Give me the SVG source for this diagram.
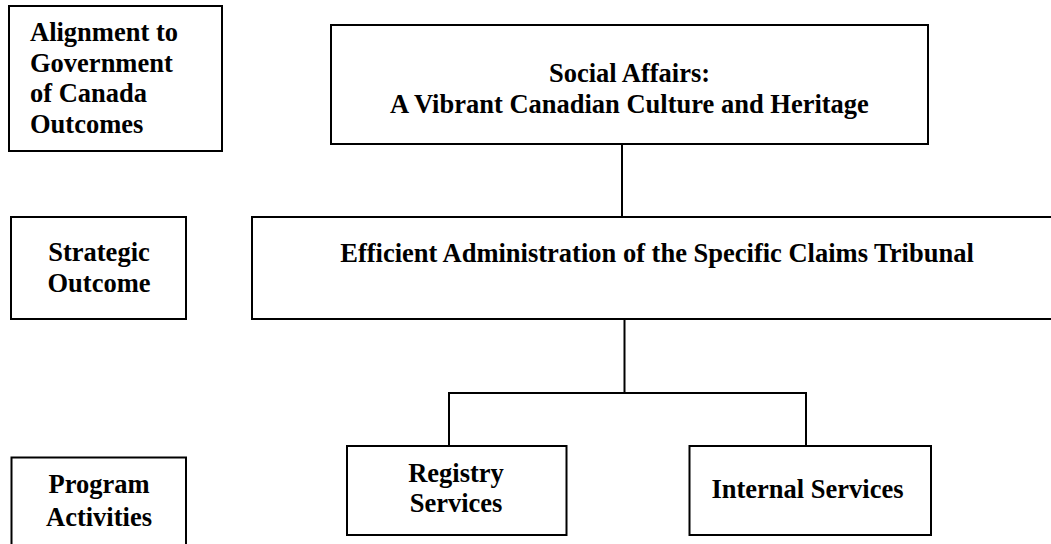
<svg xmlns="http://www.w3.org/2000/svg" width="1051" height="544" viewBox="0 0 1051 544">
<style>
.box{fill:#fff;stroke:#000;stroke-width:2}
.t{font-family:"Liberation Serif","Times New Roman",serif;font-weight:bold;font-size:26.5px;fill:#000}
.c{text-anchor:middle}
.ln{stroke:#000;stroke-width:2;fill:none}
</style>
<rect width="1051" height="544" fill="#fff"/>
<g id="connectors">
<line class="ln" x1="622" y1="144" x2="622" y2="218"/>
<line class="ln" x1="624.5" y1="319" x2="624.5" y2="393"/>
<polyline class="ln" points="449,446 449,393 806,393 806,446"/>
</g>
<g id="label-alignment">
<rect class="box" x="9" y="6" width="213" height="145"/>
<text class="t" x="30" y="41">Alignment to</text>
<text class="t" x="30" y="72">Government</text>
<text class="t" x="30" y="102">of Canada</text>
<text class="t" x="30" y="133">Outcomes</text>
</g>
<g id="label-strategic">
<rect class="box" x="11" y="217" width="175" height="102"/>
<text class="t c" x="99" y="261">Strategic</text>
<text class="t c" x="99" y="292">Outcome</text>
</g>
<g id="label-program">
<rect class="box" x="11.5" y="457.5" width="174.5" height="100"/>
<text class="t c" x="99" y="493">Program</text>
<text class="t c" x="99" y="526">Activities</text>
</g>
<g id="social-affairs">
<rect class="box" x="331" y="25" width="597" height="119"/>
<text class="t c" x="629.5" y="82">Social Affairs:</text>
<text class="t c" x="629.5" y="113">A Vibrant Canadian Culture and Heritage</text>
</g>
<g id="strategic-outcome">
<rect class="box" x="252" y="217" width="820" height="102"/>
<text class="t c" x="657" y="262">Efficient Administration of the Specific Claims Tribunal</text>
</g>
<g id="registry-services">
<rect class="box" x="347" y="446" width="219.5" height="89"/>
<text class="t c" x="456" y="482">Registry</text>
<text class="t c" x="456" y="512">Services</text>
</g>
<g id="internal-services">
<rect class="box" x="689.5" y="446" width="241.5" height="89"/>
<text class="t c" x="807.5" y="498">Internal Services</text>
</g>
</svg>
